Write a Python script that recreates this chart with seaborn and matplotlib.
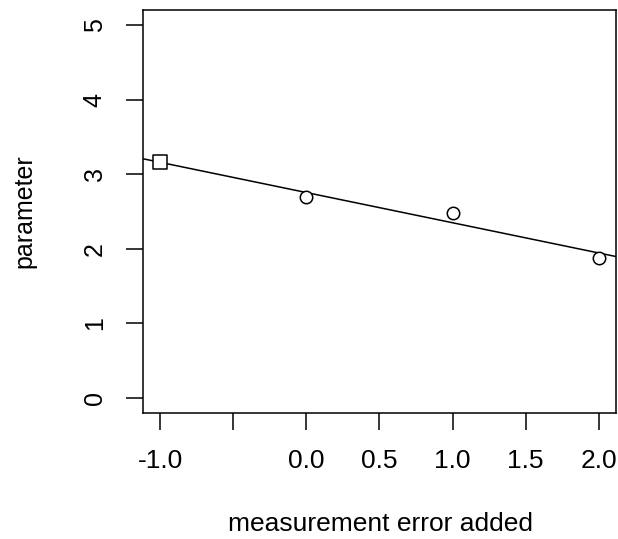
import numpy as np
import pandas as pd
import matplotlib
matplotlib.use("Agg")
import matplotlib.pyplot as plt
import seaborn as sns

# observed estimates at each amount of added measurement error
error_added = [0.0, 1.0, 2.0]
param_est = [2.69, 2.48, 1.88]

# extrapolated estimate at -1 (no measurement error)
extrap_x = [-1.0]
extrap_y = [3.16]

x_ticks = [-1.0, -0.5, 0.0, 0.5, 1.0, 1.5, 2.0]
x_tick_labels = ["-1.0", "", "0.0", "0.5", "1.0", "1.5", "2.0"]
y_ticks = [0, 1, 2, 3, 4, 5]

sns.set_style("ticks")
plt.rcParams["font.family"] = ["Liberation Sans", "DejaVu Sans"]

fig = plt.figure(figsize=(6.18, 5.39), dpi=100)
ax = fig.add_axes([0.231, 0.234, 0.766, 0.747])

df_obs = pd.DataFrame({"x": error_added, "y": param_est})
df_ext = pd.DataFrame({"x": extrap_x, "y": extrap_y})

# linear fit through the observed points, extended across the plot
slope, intercept = np.polyfit(error_added, param_est, 1)
ax.axline((0, intercept), slope=slope, color="black", lw=1.1, zorder=1)

sns.scatterplot(data=df_obs, x="x", y="y", marker="o", s=80,
                facecolor="white", edgecolor="black", linewidth=1.1,
                ax=ax, zorder=3)
sns.scatterplot(data=df_ext, x="x", y="y", marker="s", s=100,
                facecolor="white", edgecolor="black", linewidth=1.1,
                ax=ax, zorder=3)

ax.set_xlim(-1.12, 2.12)
ax.set_ylim(-0.2, 5.2)
ax.set_xticks(x_ticks)
ax.set_xticklabels(x_tick_labels, fontsize=19)
ax.set_yticks(y_ticks)
ax.set_yticklabels([str(v) for v in y_ticks], rotation=90, va="center",
                   fontsize=18)

for s in ax.spines.values():
    s.set_color("black")
    s.set_linewidth(1.1)
ax.tick_params(axis="both", direction="out", length=12, width=1.1,
               colors="black", pad=14)

ax.set_xlabel("measurement error added", fontsize=19, color="black")
ax.set_ylabel("parameter", fontsize=18, color="black")
ax.xaxis.set_label_coords(0.502, -0.245)
ax.yaxis.set_label_coords(-0.224, 0.5)

fig.savefig("out.png", dpi=100, facecolor="white")
